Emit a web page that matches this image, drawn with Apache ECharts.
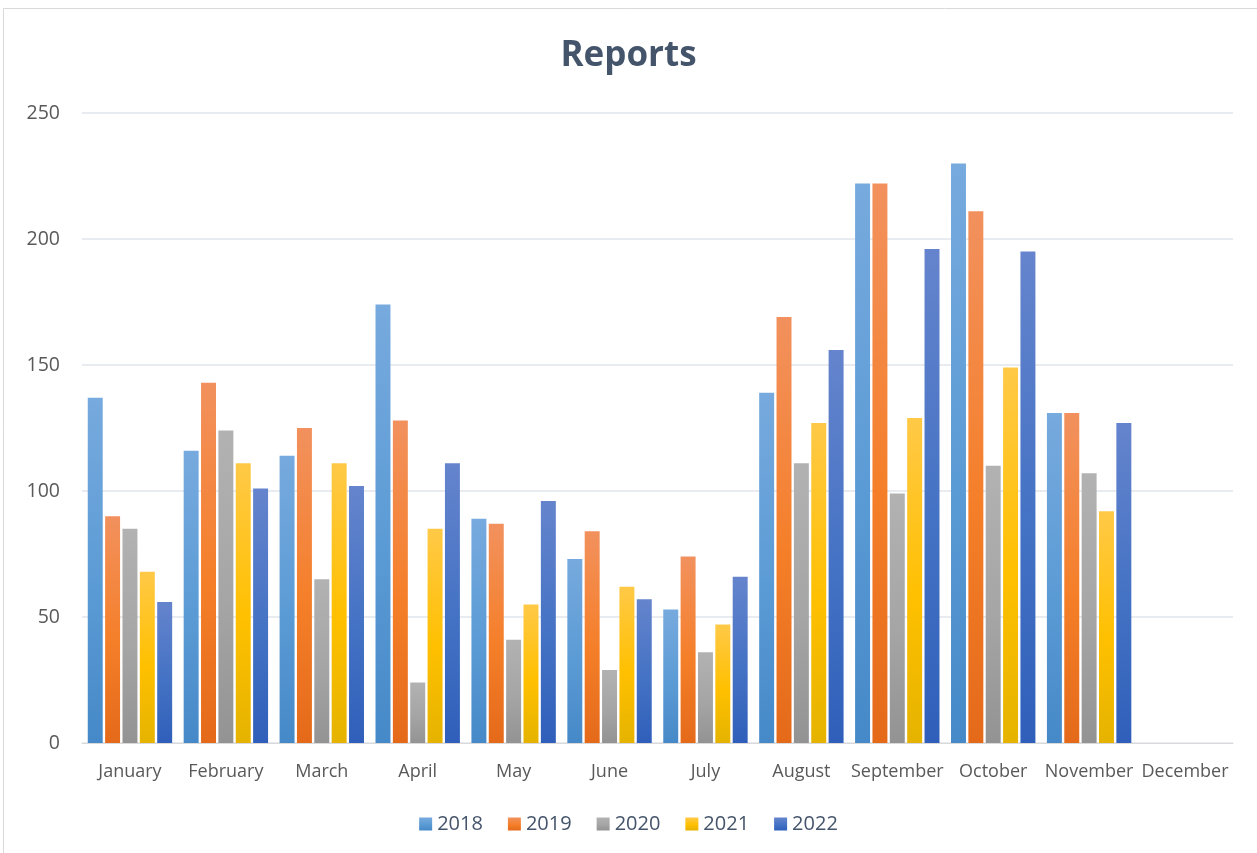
<!DOCTYPE html>
<html><head><meta charset="utf-8">
<script src="https://cdn.jsdelivr.net/npm/echarts@6/dist/echarts.min.js"></script>
<style>html,body{margin:0;padding:0;background:#fff}#c{width:1257px;height:853px}</style>
</head><body><div id="c"></div>
<script>
const categories = ['January','February','March','April','May','June','July','August','September','October','November','December'];
const seriesNames = ['2018','2019','2020','2021','2022'];
const v2018 = [137,116,114,174,89,73,53,139,222,230,131,null];
const v2019 = [90,143,125,128,87,84,74,169,222,211,131,null];
const v2020 = [85,124,65,24,41,29,36,111,99,110,107,null];
const v2021 = [68,111,111,85,55,62,47,127,129,149,92,null];
const v2022 = [56,101,102,111,96,57,66,156,196,195,127,null];
const yTicks = [0,50,100,150,200,250];

const values = [v2018,v2019,v2020,v2021,v2022];
const grads = [
  ['#77aade','#5b9bd5','#4689c8'],
  ['#f2915e','#f57f29','#e46a1a'],
  ['#b2b2b2','#a5a5a5','#939393'],
  ['#ffc947','#ffc000','#e5b300'],
  ['#6584cd','#4472c4','#2f5fba']
];
function grad(g){
  return new echarts.graphic.LinearGradient(0,0,0,1,[
    {offset:0,color:g[0]},{offset:0.55,color:g[1]},{offset:1,color:g[2]}]);
}
const chart = echarts.init(document.getElementById('c'), null, {renderer:'canvas'});
const font = "'Open Sans', 'DejaVu Sans', sans-serif";
chart.setOption({
  animation:false,
  title:{text:'Reports',left:'center',top:34,
    textStyle:{fontFamily:font,fontSize:35,fontWeight:'bold',color:'#44546a'}},
  legend:{bottom:14,left:'center',itemWidth:13,itemHeight:13,itemGap:25,icon:'rect',
    textStyle:{fontFamily:font,fontSize:20,color:'#44546a'},data:seriesNames},
  grid:{left:82,right:24,top:113,bottom:110,containLabel:false},
  xAxis:{type:'category',data:categories,
    axisLine:{lineStyle:{color:'#d9d9d9',width:1}},axisTick:{show:false},
    axisLabel:{fontFamily:font,fontSize:18,color:'#595959',margin:20,interval:0}},
  yAxis:{type:'value',min:0,max:250,interval:50,
    axisLine:{show:false},axisTick:{show:false},
    splitLine:{lineStyle:{color:'#e1e5ea',width:1.5}},
    axisLabel:{fontFamily:font,fontSize:19.5,color:'#595959',margin:22,
      formatter:function(v){return yTicks.indexOf(v)>=0?String(v):'';}}},
  series: seriesNames.map((n,i)=>({
    name:n,type:'bar',data:values[i],barGap:'16%',barCategoryGap:'12%',
    itemStyle:{color:grad(grads[i])}
  })),
  graphic:[{type:'rect',shape:{x:3.5,y:8.5,width:1260,height:850},
    style:{fill:'none',stroke:'#d9d9d9',lineWidth:1},silent:true,z:-1}]
});
</script></body></html>
